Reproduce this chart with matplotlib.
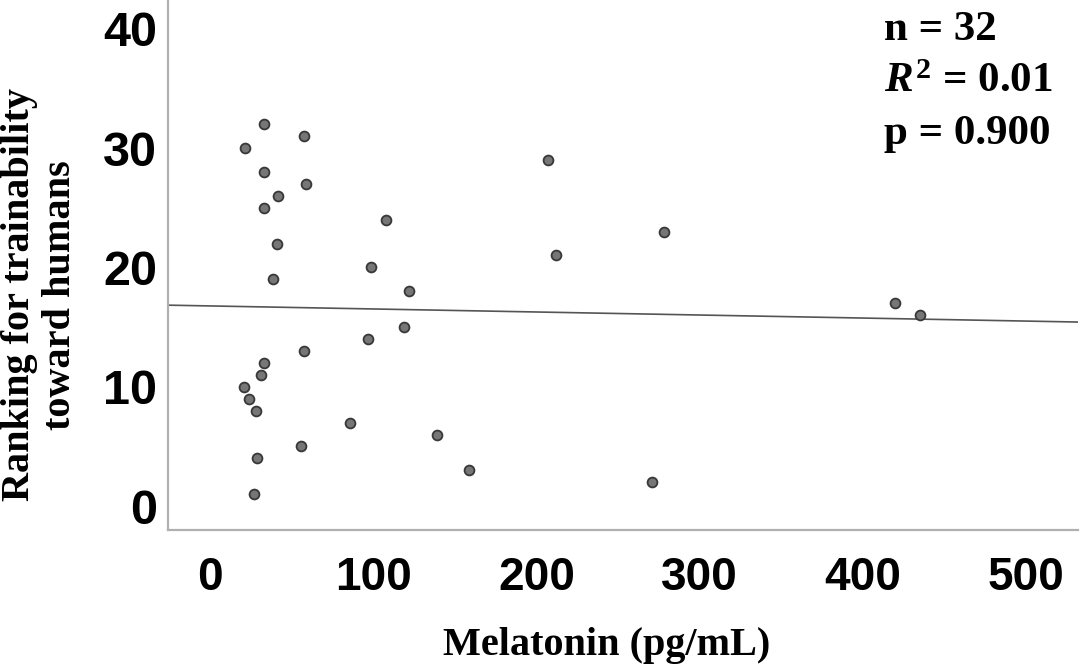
import matplotlib
matplotlib.use("Agg")
import matplotlib.pyplot as plt
import numpy as np

# Data
melatonin = [33, 57.6, 21.4, 207, 33, 58.8, 42, 33, 108, 278, 41, 212, 98.7, 38.6,
             122, 420, 435, 119, 97, 57.6, 33, 31, 21, 24, 28, 86, 139, 56, 29, 159,
             271, 27]
ranking = [32, 31, 30, 29, 28, 27, 26, 25, 24, 23, 22, 21, 20, 19, 18, 17, 16, 15,
           14, 13, 12, 11, 10, 9, 8, 7, 6, 5, 4, 3, 2, 1]
x_ticks = [0, 100, 200, 300, 400, 500]
y_ticks = [0, 10, 20, 30, 40]
stats_lines = ["n = 32", r"$R^{2}$ = 0.01", "p = 0.900"]

plt.rcParams['mathtext.fontset'] = 'custom'
plt.rcParams['mathtext.rm'] = 'Liberation Serif:bold'
plt.rcParams['mathtext.it'] = 'Liberation Serif:bold:italic'
plt.rcParams['mathtext.default'] = 'it'

fig = plt.figure(figsize=(10.8, 6.68), dpi=100)
ax = fig.add_axes([168/1080, 1 - 530/668, (1078-168)/1080, 530/668])

ax.scatter(melatonin, ranking, s=50, facecolor='#767676', edgecolor='#383838',
           linewidth=1.3, zorder=3)

xlim = (-25.7, 531.9)
slope, intercept = np.polyfit(melatonin, ranking, 1)
xs = np.array(xlim)
ax.plot(xs, intercept + slope * xs, color='#555555', lw=1.2, zorder=2)

ax.set_xlim(*xlim)
ax.set_ylim(-2.0, 42.4)
ax.set_xticks(x_ticks)
ax.set_yticks(y_ticks)
ax.set_xticklabels([str(v) for v in x_ticks], fontfamily='Liberation Sans',
                   fontweight='bold', fontsize=33)
ax.set_yticklabels([str(v) for v in y_ticks], fontfamily='Liberation Sans',
                   fontweight='bold', fontsize=35)
ax.tick_params(axis='both', length=0)
ax.tick_params(axis='x', pad=19)
ax.tick_params(axis='y', pad=8)

for side in ('top', 'right'):
    ax.spines[side].set_visible(False)
for side in ('left', 'bottom'):
    ax.spines[side].set_color('#b0b0b0')
    ax.spines[side].set_linewidth(1.6)

fig.text(0.562, 1 - 645/668, "Melatonin (pg/mL)", ha='center', va='center',
         fontfamily='Liberation Serif', fontweight='bold', fontsize=29)
fig.text(0.037, 1 - 295/668, "Ranking for trainability\ntoward humans", ha='center',
         va='center', rotation=90, multialignment='center',
         fontfamily='Liberation Serif', fontweight='bold', fontsize=29, linespacing=1.12)

for i, line in enumerate(stats_lines):
    fig.text(884/1080, 1 - (30 + 52*i)/668, line, ha='left', va='center',
             fontfamily='Liberation Serif', fontweight='bold', fontsize=31)

fig.savefig("out.png", dpi=100)
